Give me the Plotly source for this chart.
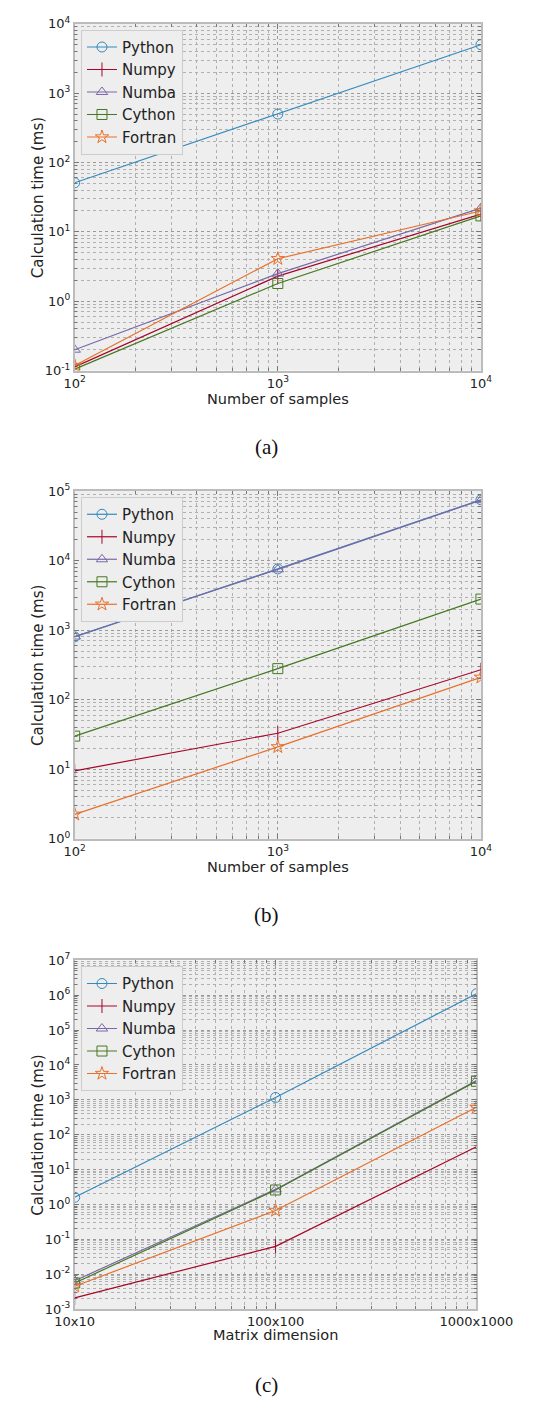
import plotly.graph_objects as go

# ---------------- data ----------------
series_names = ["Python", "Numpy", "Numba", "Cython", "Fortran"]
series_colors = ["#348ABD", "#A60628", "#7A68A6", "#467821", "#E8702A"]
series_symbols = ["circle-open", "line-ns-open", "triangle-up-open", "square-open", "star-open"]

samples = [100, 1000, 10000]

# panel (a)
a_python = [51, 500, 5000]
a_numpy = [0.113, 2.3, 18]
a_numba = [0.2, 2.5, 22]
a_cython = [0.105, 1.8, 17]
a_fortran = [0.118, 4.1, 20]

# panel (b)
b_python = [800, 7600, 75000]
b_numpy = [9.5, 33, 270]
b_numba = [810, 7500, 74000]
b_cython = [30, 280, 2800]
b_fortran = [2.25, 21, 210]

# panel (c)
matrix_n = [10, 100, 1000]
matrix_labels = ["10x10", "100x100", "1000x1000"]
c_python = [1.6, 1170, 1.1e6]
c_numpy = [0.0021, 0.063, 45]
c_numba = [0.0065, 2.7, 3600]
c_cython = [0.0056, 2.6, 3400]
c_fortran = [0.0045, 0.67, 610]

a_y_exps = [-1, 0, 1, 2, 3, 4]
b_y_exps = [0, 1, 2, 3, 4, 5]
c_y_exps = [-3, -2, -1, 0, 1, 2, 3, 4, 5, 6, 7]
ab_x_exps = [2, 3, 4]

x_title_ab = "Number of samples"
x_title_c = "Matrix dimension"
y_title = "Calculation time (ms)"
captions = ["(a)", "(b)", "(c)"]

# ---------------- figure ----------------
W, H = 552, 1404
FONT = "DejaVu Sans"

def px_x(p):
    return p / W

def px_y(p):
    return 1 - p / H

panels = [
    dict(ax="", x=samples, ys=[a_python, a_numpy, a_numba, a_cython, a_fortran],
         xd=[61, 514], yd=[15, 366], yexps=a_y_exps, legend="legend"),
    dict(ax="2", x=samples, ys=[b_python, b_numpy, b_numba, b_cython, b_fortran],
         xd=[61, 514], yd=[488, 840], yexps=b_y_exps, legend="legend2"),
    dict(ax="3", x=matrix_n, ys=[c_python, c_numpy, c_numba, c_cython, c_fortran],
         xd=[61, 509], yd=[963, 1316], yexps=c_y_exps, legend="legend3"),
]

fig = go.Figure()

def minor_vals(lo, hi):
    vals = []
    for e in range(lo, hi):
        for m in range(2, 10):
            vals.append(m * 10 ** e)
    return vals

for p in panels:
    for name, col, sym, y in zip(series_names, series_colors, series_symbols, p["ys"]):
        fig.add_trace(go.Scatter(
            x=p["x"], y=y, name=name, mode="lines+markers",
            line=dict(color=col, width=1.2),
            marker=dict(symbol=sym, size=10, color=col, line=dict(color=col, width=1)),
            xaxis="x" + p["ax"], yaxis="y" + p["ax"], legend=p["legend"],
        ))

axis_common = dict(
    type="log", showline=True, linecolor="#bcbcbc", linewidth=1.5, mirror="ticks",
    ticks="inside", ticklen=5, tickcolor="#777777", tickwidth=1,
    showgrid=True, gridcolor="#999999", griddash="dot", gridwidth=1,
    zeroline=False, tickfont=dict(family=FONT, size=13, color="#222222"),
)

layout = dict(
    width=W, height=H, margin=dict(l=0, r=0, t=0, b=0),
    paper_bgcolor="white", plot_bgcolor="#eeeeee", showlegend=True,
    font=dict(family=FONT, color="#222222"),
)

for i, p in enumerate(panels):
    ax = p["ax"]
    ylo, yhi = p["yexps"][0], p["yexps"][-1]
    ymaj = [10 ** e for e in p["yexps"]]
    ytxt = ["10<sup>%s</sup>" % (str(e) if e >= 0 else "-" + str(-e)) for e in p["yexps"]]
    if i < 2:
        xmaj = [10 ** e for e in ab_x_exps]
        xtxt = ["10<sup>%d</sup>" % e for e in ab_x_exps]
        xlo, xhi = ab_x_exps[0], ab_x_exps[-1]
    else:
        xmaj = matrix_n
        xtxt = matrix_labels
        xlo, xhi = 1, 3
    xa = dict(axis_common)
    xa.update(domain=[px_x(p["xd"][0]), px_x(p["xd"][1])], anchor="y" + ax,
              range=[xlo, xhi], tickmode="array", tickvals=xmaj, ticktext=xtxt,
              minor=dict(tickmode="array", tickvals=minor_vals(xlo, xhi), ticks="inside",
                         ticklen=3, tickcolor="#777777", showgrid=True,
                         gridcolor="#b0b0b0", griddash="dot", gridwidth=1))
    ya = dict(axis_common)
    ya.update(domain=[px_y(p["yd"][1]), px_y(p["yd"][0])], anchor="x" + ax,
              range=[ylo, yhi], tickmode="array", tickvals=ymaj, ticktext=ytxt,
              minor=dict(tickmode="array", tickvals=minor_vals(ylo, yhi), ticks="inside",
                         ticklen=3, tickcolor="#777777", showgrid=True,
                         gridcolor="#b0b0b0", griddash="dot", gridwidth=1))
    layout["xaxis" + ax] = xa
    layout["yaxis" + ax] = ya
    layout[p["legend"]] = dict(
        x=px_x(p["xd"][0] + 7), y=px_y(p["yd"][0] + 6), xanchor="left", yanchor="top",
        bgcolor="#eeeeee", bordercolor="#cccccc", borderwidth=1,
        font=dict(family=FONT, size=15, color="#222222"),
        tracegroupgap=0, itemwidth=30,
    )

fig.update_layout(**layout)

annotations = []
xtitle_y = [395, 869, 1342]
for i, p in enumerate(panels):
    cx = (p["xd"][0] + p["xd"][1]) / 2
    cy = (p["yd"][0] + p["yd"][1]) / 2
    annotations.append(dict(x=px_x(20), y=px_y(cy), xref="paper", yref="paper",
                            xanchor="center", yanchor="middle",
                            text=y_title, textangle=-90, showarrow=False,
                            font=dict(family=FONT, size=15, color="#222222")))
    annotations.append(dict(x=px_x(cx), y=px_y(xtitle_y[i]), xref="paper", yref="paper",
                            xanchor="center", yanchor="middle",
                            text=x_title_ab if i < 2 else x_title_c, showarrow=False,
                            font=dict(family=FONT, size=14.5, color="#222222")))
    annotations.append(dict(x=px_x(275), y=px_y(p["yd"][1] + 77), xref="paper", yref="paper",
                            xanchor="center", yanchor="middle",
                            text=captions[i], showarrow=False,
                            font=dict(family="Liberation Serif", size=21, color="#111111")))
fig.update_layout(annotations=annotations)

fig.write_html("out.html")
